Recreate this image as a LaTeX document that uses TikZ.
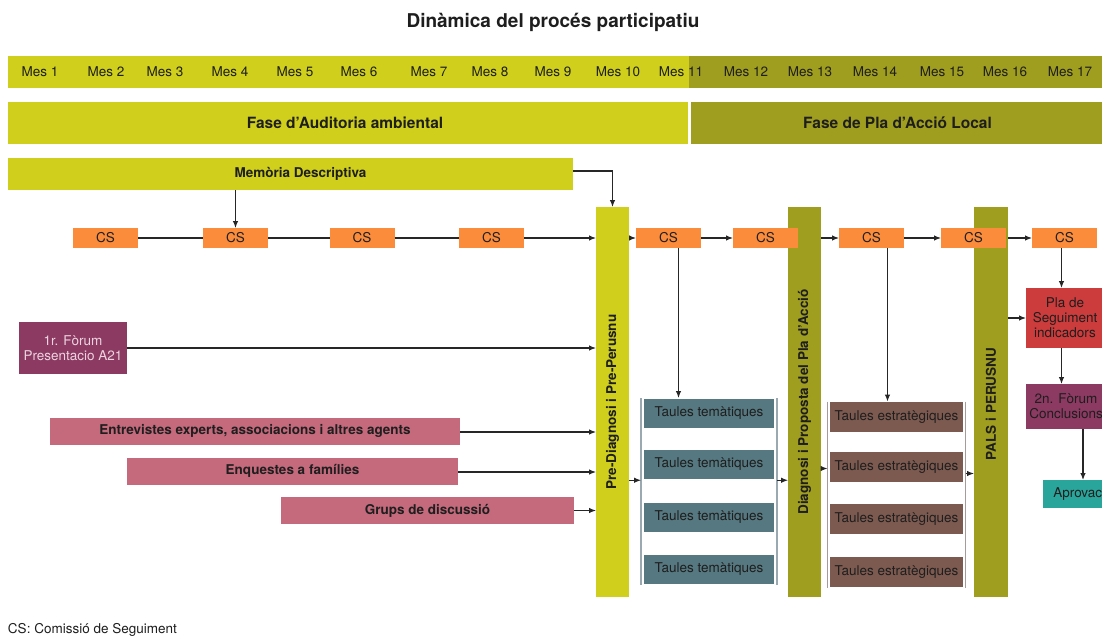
\documentclass[tikz,border=0pt]{standalone}
\usepackage{fontspec}
\setmainfont{TeX Gyre Heros}
\usetikzlibrary{arrows.meta,fit,calc}
\definecolor{limec}{HTML}{D0D01C}
\definecolor{olivec}{HTML}{A09E1E}
\definecolor{orangec}{HTML}{FA8C3C}
\definecolor{purplec}{HTML}{8C3A62}
\definecolor{pinkc}{HTML}{C46A7C}
\definecolor{slatec}{HTML}{567880}
\definecolor{brownc}{HTML}{7D5A50}
\definecolor{redc}{HTML}{CD3C3C}
\definecolor{tealc}{HTML}{2AA59B}
\definecolor{inkc}{HTML}{1E1E1E}
\definecolor{lightink}{HTML}{EBD3DF}
\definecolor{linec}{HTML}{262626}
\definecolor{ttlinec}{HTML}{9AA8B2}
\definecolor{telinec}{HTML}{A89A96}
\begin{document}
\begin{tikzpicture}[x=1pt,y=-1pt,
  every node/.style={inner sep=0pt,outer sep=0pt,text=inkc},
  reg/.style={font=\fontsize{13.5}{15}\selectfont},
  bld/.style={font=\bfseries\fontsize{13.5}{15}\selectfont},
  phase/.style={font=\bfseries\fontsize{15.5}{17}\selectfont},
  blk/.style={rectangle,fill=#1},
  csbox/.style={blk=orangec,reg,minimum width=65pt,minimum height=20pt},
  vbar/.style={blk=#1,minimum width=33pt,minimum height=390pt},
  ttbox/.style={blk=slatec,reg,minimum width=130pt,minimum height=29pt},
  tebox/.style={blk=brownc,reg,minimum width=133pt,minimum height=30pt},
  pinkbox/.style={blk=pinkc,bld,minimum height=27pt},
  ln/.style={draw=linec,line width=1.1pt},
  arr/.style={ln,-{Latex[length=7pt,width=5.5pt]}},
  brk/.style={line width=1.2pt,draw=#1},
]
\clip (0,0) rectangle (1102,637);
\useasboundingbox (0,0) rectangle (1102,637);

% title
\node[font=\bfseries\fontsize{19}{21}\selectfont] (title) at (553,22) {Dinàmica del procés participatiu};

% month bar
\node[blk=limec,minimum width=681pt,minimum height=32pt] (mbl) at (348.5,72) {};
\node[blk=olivec,minimum width=413pt,minimum height=32pt] (mbr) at (895.5,72) {};
\foreach \x/\n in {40/1,106/2,165/3,230/4,295/5,359/6,429/7,490/8,553/9,618/10,681/11,746/12,810/13,875/14,942/15,1005/16,1070/17}
  \node[reg] (mes\n) at (\x,72) {Mes \n};

% phase bar
\node[blk=limec,minimum width=680pt,minimum height=42pt] (fa) at (348,123) {};
\node[phase] (fat) at ([xshift=-3pt]fa.center) {Fase d'Auditoria ambiental};
\node[blk=olivec,minimum width=411pt,minimum height=42pt] (fp) at (896.5,123) {};
\node[phase] (fpt) at ([xshift=1pt]fp.center) {Fase de Pla d'Acció Local};

% memoria
\node[blk=limec,minimum width=565pt,minimum height=32pt] (mem) at (290.5,174) {};
\node[bld] (memt) at ([xshift=10pt]mem.center) {Memòria Descriptiva};

% vertical bars
\node[vbar=limec] (pd) at (612.5,402) {};
\node[bld,rotate=90] (pdt) at (pd.center) {Pre-Diagnosi i Pre-Perusnu};
\node[vbar=olivec] (dg) at (804.5,402) {};
\node[bld,rotate=90] (dgt) at (dg.center) {Diagnosi i Proposta del Pla d'Acció};
\node[vbar=olivec,minimum width=34pt] (pals) at (991,402) {};
\node[bld,rotate=90] (palst) at ([yshift=-2pt]pals.center) {PALS i PERUSNU};

% CS boxes
\node[csbox] (cs1) at (105.5,238) {CS};
\node[csbox] (cs2) at (235.5,238) {CS};
\node[csbox] (cs3) at (362,238) {CS};
\node[csbox] (cs4) at (491.5,238) {CS};
\node[csbox] (cs5) at (668.5,238) {CS};
\node[csbox] (cs6) at (765.5,238) {CS};
\node[csbox] (cs7) at (871.5,238) {CS};
\node[csbox] (cs8) at (973.5,238) {CS};
\node[csbox] (cs9) at (1064.5,238) {CS};

% left inputs
\node[blk=purplec,reg,minimum width=108pt,minimum height=52pt,align=center,text=lightink] (f1) at (73,348) {1r. Fòrum\\Presentacio A21};
\node[pinkbox,minimum width=410pt] (ent) at (255,431) {Entrevistes experts, associacions i altres agents};
\node[pinkbox,minimum width=331pt] (enq) at (292.5,471) {Enquestes a famílies};
\node[pinkbox,minimum width=293pt] (grp) at (427.5,510.5) {Grups de discussió};

% taules tematiques
\node[ttbox] (tt1) at (709,413.5) {Taules temàtiques};
\node[ttbox] (tt2) at (709,464.5) {Taules temàtiques};
\node[ttbox] (tt3) at (709,517) {Taules temàtiques};
\node[ttbox] (tt4) at (709,569) {Taules temàtiques};
\node[fit=(tt1)(tt4),inner xsep=3pt,inner ysep=1pt] (ttb) {};
\draw[brk=ttlinec] (ttb.north west) -- (ttb.south west);
\draw[brk=ttlinec] (ttb.north east) -- (ttb.south east);

% taules estrategiques
\node[tebox] (te1) at (896.5,417) {Taules estratègiques};
\node[tebox] (te2) at (896.5,467) {Taules estratègiques};
\node[tebox] (te3) at (896.5,519) {Taules estratègiques};
\node[tebox] (te4) at (896.5,572) {Taules estratègiques};
\node[fit=(te1)(te4),inner xsep=2.5pt,inner ysep=0.5pt] (teb) {};
\draw[brk=telinec] (teb.north west) -- (teb.south west);
\draw[brk=telinec] (teb.north east) -- (teb.south east);

% right column
\node[blk=redc,minimum width=88pt,minimum height=60pt] (pla) at (1070,318) {};
\node[reg,align=center] (plat) at ([xshift=-5pt]pla.center) {Pla de\\Seguiment\\indicadors};
\node[blk=purplec,reg,minimum width=80pt,minimum height=45pt,align=center,text=inkc] (f2) at (1066,406.5) {2n. Fòrum\\Conclusions};
\node[blk=tealc,reg,minimum width=80pt,minimum height=28pt] (apr) at (1083,494) {Aprovació};

% footer
\node[reg,anchor=west] (foot) at (8,630) {CS: Comissió de Seguiment};

% connectors
\draw[arr] (mem.east |- 0,171) -| (pd.north);
\draw[arr] (mem.south -| cs2) -- (cs2.north);
\draw[ln] (cs1) -- (cs2);
\draw[ln] (cs2) -- (cs3);
\draw[ln] (cs3) -- (cs4);
\draw[arr] (cs4) -- (cs4 -| pd.west);
\draw[arr] (cs5 -| pd.east) -- (cs5.west);
\draw[arr] (cs5) -- (cs6);
\draw[arr] (cs6 -| dg.east) -- (cs7.west);
\draw[arr] (cs7) -- (cs8);
\draw[arr] (cs8 -| pals.east) -- (cs9.west);
\draw[arr] ([xshift=10pt]cs5.south) -- ([xshift=10pt]cs5.south |- ttb.north);
\draw[arr] ([xshift=16pt]cs7.south) -- ([xshift=16pt]cs7.south |- teb.north);
\draw[arr] ([xshift=-3pt]cs9.south) -- ([xshift=-3pt]cs9.south |- pla.north);
\draw[arr] ([xshift=-3pt]cs9.south |- pla.south) -- ([xshift=-3pt]cs9.south |- f2.north);
\draw[arr] (f2.south -| apr.north) -- (apr.north);
\draw[arr] (pla.west -| pals.east) -- (pla.west);

\draw[arr] (f1.east) -- (f1.east -| pd.west);
\draw[arr] ([yshift=-1pt]ent.east) -- ([yshift=-1pt]ent.east -| pd.west);
\draw[arr] ([yshift=-1pt]enq.east) -- ([yshift=-1pt]enq.east -| pd.west);
\draw[arr] (grp.east) -- (grp.east -| pd.west);

\draw[arr] ([yshift=11pt]ttb.west -| pd.east) -- ([yshift=11pt]ttb.west);
\draw[arr] ([yshift=11pt]ttb.east) -- ([yshift=11pt]ttb.east -| dg.west);
\draw[arr] ([yshift=26pt]teb.west -| dg.east) -- ([yshift=26pt]teb.west);
\draw[arr] ([yshift=21pt]teb.east) -- ([yshift=21pt]teb.east -| pals.west);
\end{tikzpicture}
\end{document}
